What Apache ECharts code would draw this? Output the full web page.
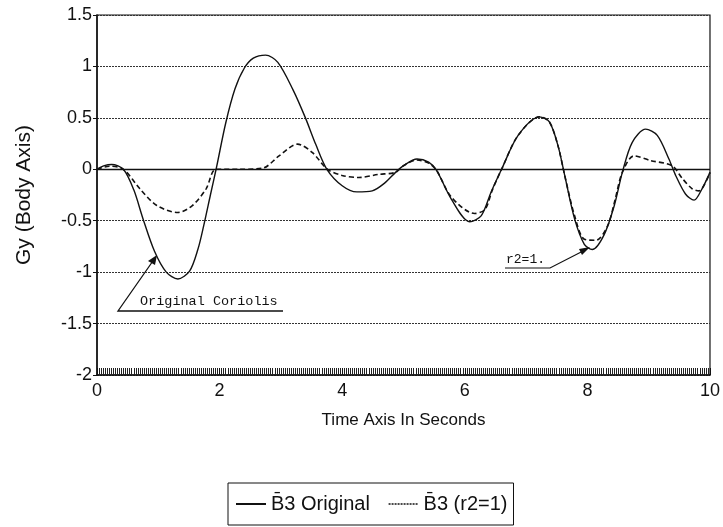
<!DOCTYPE html>
<html>
<head>
<meta charset="utf-8">
<script src="https://cdn.jsdelivr.net/npm/echarts@6/dist/echarts.min.js"></script>
<style>html,body{margin:0;padding:0;background:#fff;}#c{width:723px;height:527px;}</style>
</head>
<body>
<div id="c"></div>
<script>
const timesOriginal = [0,0.12,0.24,0.43,0.6,0.75,0.94,1.13,1.32,1.51,1.645,1.74,1.85,1.95,2.1,2.25,2.4,2.55,2.75,2.95,3.2,3.4,3.57,3.75,4.0,4.24,4.49,4.7,4.87,5.0,5.22,5.41,5.54,5.78,6.08,6.27,6.43,6.6,6.87,7.22,7.38,7.52,7.63,7.79,7.95,8.08,8.27,8.44,8.57,8.73,8.95,9.14,9.33,9.44,9.6,9.74,9.87,10];
const valuesOriginal = [0,0.035,0.046,0,-0.2,-0.48,-0.8,-1.0,-1.066,-0.99,-0.78,-0.55,-0.25,0.02,0.45,0.78,0.98,1.08,1.11,1.04,0.77,0.5,0.24,0,-0.16,-0.22,-0.21,-0.13,-0.03,0.035,0.10,0.07,-0.01,-0.29,-0.51,-0.45,-0.22,0,0.33,0.51,0.46,0.23,-0.06,-0.48,-0.73,-0.78,-0.64,-0.35,-0.03,0.26,0.39,0.33,0.10,-0.06,-0.24,-0.30,-0.19,-0.03];
const timesR2 = [0,0.2,0.43,0.7,0.97,1.32,1.56,1.78,1.94,2.3,2.7,2.97,3.27,3.51,3.76,4.0,4.27,4.59,4.87,5.0,5.22,5.41,5.54,5.78,6.16,6.33,6.45,6.6,6.87,7.22,7.38,7.52,7.63,7.79,7.95,8.14,8.33,8.45,8.57,8.76,9.03,9.38,9.55,9.71,9.82,10];
const valuesR2 = [0,0.03,0,-0.19,-0.35,-0.42,-0.35,-0.19,0,0,0.01,0.13,0.245,0.165,0,-0.06,-0.08,-0.05,-0.03,0.035,0.09,0.06,-0.01,-0.27,-0.43,-0.39,-0.2,0,0.33,0.51,0.46,0.23,-0.06,-0.45,-0.68,-0.69,-0.55,-0.3,-0.03,0.13,0.085,0.035,-0.09,-0.19,-0.21,-0.03];
const seriesNames = ['B\u03043 Original', 'B\u03043 (r2=1)'];
const xTicks = [0,2,4,6,8,10];
const yTicks = [-2,-1.5,-1,-0.5,0,0.5,1,1.5];

const zip = (a,b) => a.map((t,i)=>[t,b[i]]);
const chart = echarts.init(document.getElementById('c'));
const font = 'Liberation Sans, Arial, sans-serif';
chart.setOption({
  animation:false,
  backgroundColor:'#fff',
  grid:{left:97,right:10,top:15,bottom:152,show:true,borderColor:'#111',borderWidth:1.2},
  xAxis:{type:'value',min:0,max:10,interval:2,
    name:'Time Axis In Seconds',nameLocation:'middle',nameGap:37,
    nameTextStyle:{fontFamily:font,fontSize:17,color:'#111'},
    axisLine:{onZero:false,lineStyle:{color:'#111',width:1.5}},
    axisTick:{show:true,inside:true,length:7,lineStyle:{color:'#111'}},
    minorTick:{show:true,splitNumber:60,length:7,lineStyle:{color:'#222',width:1}},
    axisLabel:{fontFamily:font,fontSize:18,color:'#111',margin:7,formatter:v=>xTicks.includes(v)?String(v):''},
    splitLine:{show:false}},
  yAxis:{type:'value',min:-2,max:1.5,interval:0.5,
    name:'Gy (Body Axis)',nameLocation:'middle',nameGap:62,nameRotate:90,
    nameTextStyle:{fontFamily:font,fontSize:21,color:'#111'},
    axisLine:{show:true,lineStyle:{color:'#111',width:1.5}},
    axisTick:{show:true,length:4,lineStyle:{color:'#111'}},
    axisLabel:{fontFamily:font,fontSize:18,color:'#111',margin:5,formatter:v=>yTicks.includes(v)?String(v):''},
    splitLine:{show:true,lineStyle:{color:'#333',type:[2,1],width:1}}},
  legend:{bottom:2,left:228,itemWidth:30,itemHeight:12,itemGap:18,
    borderColor:'#111',borderWidth:1,padding:[11,6,11,7],
    itemStyle:{opacity:0},
    textStyle:{fontFamily:font,fontSize:20,color:'#111'},
    data:[{name:seriesNames[0]},{name:seriesNames[1],lineStyle:{type:[2,1],width:1.3}}]},
  series:[
    {name:seriesNames[0],type:'line',data:zip(timesOriginal,valuesOriginal),smooth:0.3,symbol:'none',
     lineStyle:{color:'#111',width:1.4},itemStyle:{color:'#111'},
     markLine:{silent:true,symbol:'none',label:{show:false},lineStyle:{color:'#111',type:'solid',width:1.4},data:[{yAxis:0}]}},
    {name:seriesNames[1],type:'line',data:zip(timesR2,valuesR2),smooth:0.3,symbol:'none',
     lineStyle:{color:'#111',width:1.6,type:[5,3]},itemStyle:{color:'#111'}}
  ],
  graphic:[
    {type:'text',left:140,top:294,style:{text:'Original Coriolis',font:'13.5px "Liberation Mono", monospace',fill:'#111'}},
    {type:'polyline',shape:{points:[[283,311],[118,311],[155,258]]},style:{stroke:'#111',lineWidth:1.3,fill:null}},
    {type:'polygon',shape:{points:[[157,255],[148,261],[155,265]]},style:{fill:'#111'}},
    {type:'text',left:506,top:253,style:{text:'r2=1.',font:'13px "Liberation Mono", monospace',fill:'#111'}},
    {type:'polyline',shape:{points:[[505,268],[550,268],[587,249]]},style:{stroke:'#111',lineWidth:1.2,fill:null}},
    {type:'polygon',shape:{points:[[590,247],[579,249],[582,255]]},style:{fill:'#111'}}
  ]
});
</script>
</body>
</html>
